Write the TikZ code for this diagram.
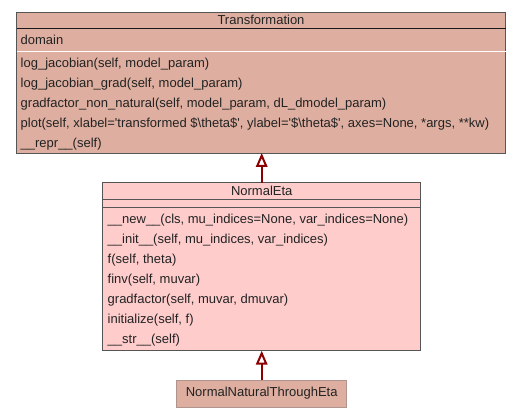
\documentclass[tikz,border=0pt]{standalone}
\usepackage{fontspec}
\setmainfont{Liberation Sans}
\usetikzlibrary{arrows.meta}
\definecolor{tanfill}{HTML}{DEAFA0}
\definecolor{pinkfill}{HTML}{FFCCCC}
\definecolor{boxline}{HTML}{555555}
\definecolor{arrowred}{HTML}{8B0000}
\definecolor{txt}{HTML}{222222}
\newcommand{\sq}{\textquotesingle}
\begin{document}
\begin{tikzpicture}[x=1pt,y=-1pt,
  classbox/.style={draw=boxline, line width=0.9pt, rectangle, inner sep=0pt, outer sep=0pt},
  lbl/.style={anchor=base west, inner sep=0pt, text=txt, font=\fontsize{13}{15}\selectfont},
  ttl/.style={anchor=base, inner sep=0pt, text=txt, font=\fontsize{13}{15}\selectfont},
  inherit/.style={draw=arrowred, line width=2pt, -{Triangle[open, length=14pt, width=11.5pt, line width=2pt]}}
]
\useasboundingbox (0,0) rectangle (521,419);
% Transformation
\node[classbox, fill=tanfill, minimum width=489pt, minimum height=141pt] (T) at (261,82.5) {};
\draw[line width=1.6pt, draw=black!90] (T.west |- 0,28.7) -- (T.east |- 0,28.7);
\draw[line width=1pt, draw=white] (T.west |- 0,51.3) -- (T.east |- 0,51.3);
\node[ttl] (Tt) at (261,24.5) {Transformation};
\node[lbl] (Ta) at (20.5,44.3) {domain};
\node[lbl] (Tm1) at (20.5,67.6) {log\_jacobian(self, model\_param)};
\node[lbl] (Tm2) at (20.5,87.6) {log\_jacobian\_grad(self, model\_param)};
\node[lbl] (Tm3) at (20.5,107.6) {gradfactor\_non\_natural(self, model\_param, dL\_dmodel\_param)};
\node[lbl] (Tm4) at (20.5,127.6) {plot(self, xlabel=\sq transformed \$\textbackslash theta\$\sq, ylabel=\sq\$\textbackslash theta\$\sq, axes=None, *args, **kw)};
\node[lbl] (Tm5) at (20.5,147.6) {\_\_repr\_\_(self)};
% NormalEta
\node[classbox, fill=pinkfill, minimum width=318pt, minimum height=168pt] (E) at (261.7,266.7) {};
\draw[line width=0.9pt, draw=boxline] (E.west |- 0,199.3) -- (E.east |- 0,199.3);
\draw[line width=0.9pt, draw=boxline] (E.west |- 0,207.5) -- (E.east |- 0,207.5);
\node[ttl] (Et) at (261.7,195.3) {NormalEta};
\node[lbl] (Em1) at (107.5,223.6) {\_\_new\_\_(cls, mu\_indices=None, var\_indices=None)};
\node[lbl] (Em2) at (107.5,243.6) {\_\_init\_\_(self, mu\_indices, var\_indices)};
\node[lbl] (Em3) at (107.5,263.6) {f(self, theta)};
\node[lbl] (Em4) at (107.5,283.6) {finv(self, muvar)};
\node[lbl] (Em5) at (107.5,303.6) {gradfactor(self, muvar, dmuvar)};
\node[lbl] (Em6) at (107.5,323.6) {initialize(self, f)};
\node[lbl] (Em7) at (107.5,343.6) {\_\_str\_\_(self)};
% NormalNaturalThroughEta
\node[draw=tanfill!70!black!80, line width=0.8pt, fill=tanfill, rectangle, inner sep=0pt, minimum width=170pt, minimum height=27pt, text=txt, font=\fontsize{13}{15}\selectfont] (N) at (261.7,393.5) {NormalNaturalThroughEta};
% inheritance
\draw[inherit] (E.north) -- (E.north |- T.south);
\draw[inherit] (N.north) -- (N.north |- E.south);
\end{tikzpicture}
\end{document}
